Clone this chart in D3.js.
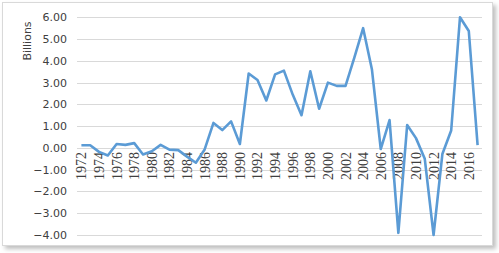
<!DOCTYPE html>
<html>
<head>
<meta charset="utf-8">
<script src="https://cdn.jsdelivr.net/npm/d3@7"></script>
<style>
  body { margin: 0; background: #fff; }
  #chart { width: 499px; height: 253px; }
  .y-tick text { font-family: "DejaVu Sans", sans-serif; font-size: 11px; fill: #404040; }
  .x-tick text { font-family: "Liberation Serif", serif; font-size: 14px; fill: #404040; }
</style>
</head>
<body>
<div id="chart"></div>
<script>
// data (billions)
const years = d3.range(1972, 2018);
const values = [
  0.12, 0.12, -0.18, -0.35, 0.18, 0.14, 0.22, -0.3, -0.15, 0.14,
  -0.08, -0.1, -0.4, -0.68, -0.07, 1.15, 0.82, 1.22, 0.18, 3.42,
  3.12, 2.18, 3.38, 3.55, 2.45, 1.5, 3.52, 1.8, 3.0, 2.85,
  2.85, 4.15, 5.5, 3.6, -0.05, 1.28, -3.9, 1.05, 0.45, -0.5,
  -4.0, -0.28, 0.8, 6.0, 5.37, 0.13
];
const yTicks = [6, 5, 4, 3, 2, 1, 0, -1, -2, -3, -4];
const xLabels = years.filter(y => (y - 1972) % 2 === 0);

const W = 499, H = 253;
const svg = d3.select("#chart").append("svg")
    .attr("width", W)
    .attr("height", H);

// shadow + frame
const defs = svg.append("defs");
const f = defs.append("filter").attr("id", "sh")
    .attr("x", "-5%").attr("y", "-5%").attr("width", "115%").attr("height", "115%");
f.append("feDropShadow").attr("dx", 3).attr("dy", 3).attr("stdDeviation", 2)
    .attr("flood-color", "#000").attr("flood-opacity", 0.25);
svg.append("rect")
    .attr("x", 2.5).attr("y", 2.5)
    .attr("width", 490).attr("height", 243)
    .attr("fill", "#fff").attr("stroke", "#d9d9d9")
    .attr("filter", "url(#sh)");

// scales
const x = d3.scaleBand()
    .domain(years)
    .range([77, 482]);

const y = d3.scaleLinear()
    .domain([-4, 6])
    .range([235, 17.3]);

// gridlines
svg.append("g")
    .selectAll("line")
    .data(yTicks)
    .join("line")
    .attr("x1", 77).attr("x2", 482)
    .attr("y1", d => Math.round(y(d)) + 0.5)
    .attr("y2", d => Math.round(y(d)) + 0.5)
    .attr("stroke", "#d9d9d9")
    .attr("stroke-width", 1);

// y axis labels
const yAxis = d3.axisLeft(y)
    .tickValues(yTicks)
    .tickFormat(d3.format(".2f"))
    .tickSize(0)
    .tickPadding(0);
svg.append("g")
    .attr("class", "y-tick")
    .attr("transform", "translate(67,0)")
    .call(yAxis)
    .call(g => g.select(".domain").remove());

// x axis labels, rotated, sitting under the zero line
svg.append("g")
    .attr("class", "x-tick")
    .selectAll("text")
    .data(xLabels)
    .join("text")
    .attr("text-anchor", "end")
    .attr("dominant-baseline", "central")
    .attr("transform", d => "translate(" + (x(d) + x.bandwidth() / 2 + 0.5) + "," + (y(0) + 4) + ") rotate(-90)")
    .text(d => d);

// y title
svg.append("text")
    .attr("text-anchor", "middle")
    .attr("transform", "translate(31,41) rotate(-90)")
    .attr("font-family", "DejaVu Sans, sans-serif")
    .attr("font-size", "11px")
    .attr("fill", "#404040")
    .text("Billions");

// the line
const line = d3.line()
    .x((d, i) => x(years[i]) + x.bandwidth() / 2)
    .y(d => y(d));

svg.append("path")
    .datum(values)
    .attr("fill", "none")
    .attr("stroke", "#5b9bd5")
    .attr("stroke-width", 2.6)
    .attr("stroke-linejoin", "round")
    .attr("d", line);
</script>
</body>
</html>
